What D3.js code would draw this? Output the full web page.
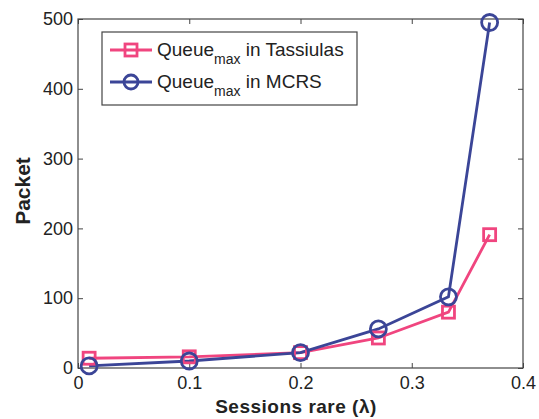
<!DOCTYPE html>
<html><head><meta charset="utf-8">
<script src="https://cdn.jsdelivr.net/npm/d3@7"></script>
<style>body{margin:0;background:#fff}svg{display:block}</style>
</head><body>
<svg id="c" width="539" height="419"></svg>
<script>
const xValues = [0.01, 0.1, 0.2, 0.27, 0.333, 0.37];
const tassiulas = [14, 16, 22, 43, 80, 191];
const mcrs = [3, 10, 22, 56, 102, 495];
const xTicks = [0, 0.1, 0.2, 0.3, 0.4];
const yTicks = [0, 100, 200, 300, 400, 500];
const seriesNames = ["in Tassiulas", "in MCRS"];

const W = 539, H = 419, m = {l:78, t:19, r:16, b:51};
const svg = d3.select("#c");
const x = d3.scaleLinear().domain([0,0.4]).range([m.l, W-m.r]);
const y = d3.scaleLinear().domain([0,500]).range([H-m.b, m.t]);
const font = "Helvetica, Arial, 'Liberation Sans', sans-serif";
const pink = "#f0457f", blue = "#3b4597";

svg.append("rect").attr("x",m.l).attr("y",m.t).attr("width",W-m.l-m.r).attr("height",H-m.t-m.b)
  .attr("fill","none").attr("stroke","#444").attr("stroke-width",1.2);

const fmtX = d => d===0 ? "0" : d3.format(".1f")(d);
const tk = 5;
const gx = svg.append("g").attr("transform",`translate(0,${H-m.b})`)
  .call(d3.axisBottom(x).tickValues(xTicks).tickFormat(fmtX).tickSizeInner(-tk).tickSizeOuter(0).tickPadding(8));
const gxt = svg.append("g").attr("transform",`translate(0,${m.t})`)
  .call(d3.axisTop(x).tickValues(xTicks).tickFormat("").tickSizeInner(-tk).tickSizeOuter(0));
const gy = svg.append("g").attr("transform",`translate(${m.l},0)`)
  .call(d3.axisLeft(y).tickValues(yTicks).tickSizeInner(-tk).tickSizeOuter(0).tickPadding(5));
const gyr = svg.append("g").attr("transform",`translate(${W-m.r},0)`)
  .call(d3.axisRight(y).tickValues(yTicks).tickFormat("").tickSizeInner(-tk).tickSizeOuter(0));
[gx,gxt,gy,gyr].forEach(g=>{
  g.select(".domain").remove();
  g.selectAll("line").attr("stroke","#444");
  g.selectAll("text").attr("font-family",font).attr("font-size",18).attr("fill","#222");
});

const line = d3.line().x((d,i)=>x(xValues[i])).y(d=>y(d));
svg.append("path").datum(tassiulas).attr("d",line).attr("fill","none").attr("stroke",pink).attr("stroke-width",2.8);
svg.append("path").datum(mcrs).attr("d",line).attr("fill","none").attr("stroke",blue).attr("stroke-width",2.8);
svg.selectAll(".sq").data(tassiulas).enter().append("rect")
  .attr("x",(d,i)=>x(xValues[i])-6).attr("y",d=>y(d)-6).attr("width",12).attr("height",12)
  .attr("fill","none").attr("stroke",pink).attr("stroke-width",2.8);
svg.selectAll(".ci").data(mcrs).enter().append("circle")
  .attr("cx",(d,i)=>x(xValues[i])).attr("cy",d=>y(d)).attr("r",8)
  .attr("fill","none").attr("stroke",blue).attr("stroke-width",2.8);

// legend
const lg = svg.append("g");
lg.append("rect").attr("x",102).attr("y",32).attr("width",255).attr("height",73)
  .attr("fill","#fff").attr("stroke","#444").attr("stroke-width",1.2);
const rows = [{c:pink, n:seriesNames[0], y:50, sq:true},{c:blue, n:seriesNames[1], y:82, sq:false}];
rows.forEach(r=>{
  lg.append("line").attr("x1",110).attr("x2",152).attr("y1",r.y).attr("y2",r.y).attr("stroke",r.c).attr("stroke-width",2.8);
  if(r.sq) lg.append("rect").attr("x",125).attr("y",r.y-6).attr("width",12).attr("height",12).attr("fill","none").attr("stroke",r.c).attr("stroke-width",2.8);
  else lg.append("circle").attr("cx",131).attr("cy",r.y).attr("r",7).attr("fill","none").attr("stroke",r.c).attr("stroke-width",2.8);
  const t = lg.append("text").attr("x",157).attr("y",r.y+6).attr("font-family",font).attr("font-size",19).attr("fill","#222");
  t.append("tspan").text("Queue");
  t.append("tspan").attr("font-size",14).attr("dy",8).text("max");
  t.append("tspan").attr("dy",-8).text(" " + r.n);
});

svg.append("text").attr("x",296).attr("y",413).attr("text-anchor","middle").attr("font-family",font)
  .attr("font-size",19).attr("letter-spacing",0.5).attr("font-weight","bold").attr("fill","#222").text("Sessions rare (λ)");
svg.append("text").attr("transform","translate(30,191) rotate(-90)").attr("text-anchor","middle").attr("font-family",font)
  .attr("font-size",21).attr("font-weight","bold").attr("fill","#222").text("Packet");
</script>
</body></html>
